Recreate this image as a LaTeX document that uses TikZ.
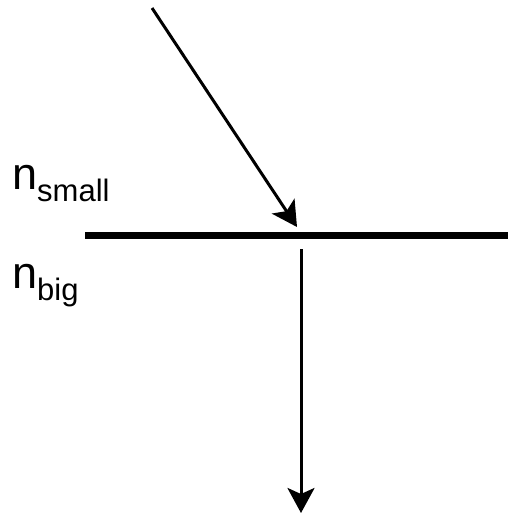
\documentclass[tikz,border=0pt]{standalone}
\usepackage{fontspec}
\setmainfont{Liberation Sans}
\usetikzlibrary{arrows.meta}
\begin{document}
\begin{tikzpicture}[x=1pt,y=-1pt,
  ray/.style={line width=3pt,-{Stealth[length=25pt,width=27pt,inset=6pt]}},
  lbl/.style={anchor=base west,inner sep=0pt}]
\useasboundingbox (0,0) rectangle (508,515);
\coordinate (src) at (152,8);
\coordinate (hit) at (297,227);
\coordinate (rstart) at (301,249);
\coordinate (rend) at (301,513);
\coordinate (ifl) at (85,235);
\coordinate (ifr) at (508,235);
\draw[line width=7pt] (ifl) -- (ifr);
\draw[ray] (src) -- (hit);
\draw[ray] (rstart) -- (rend);
\node[lbl] (nsmall) at (12,189) {\fontsize{45}{45}\selectfont n\raisebox{-12pt}{\fontsize{31}{31}\selectfont small}};
\node[lbl] (nbig) at (12,288) {\fontsize{45}{45}\selectfont n\raisebox{-12pt}{\fontsize{31}{31}\selectfont big}};
\end{tikzpicture}
\end{document}
